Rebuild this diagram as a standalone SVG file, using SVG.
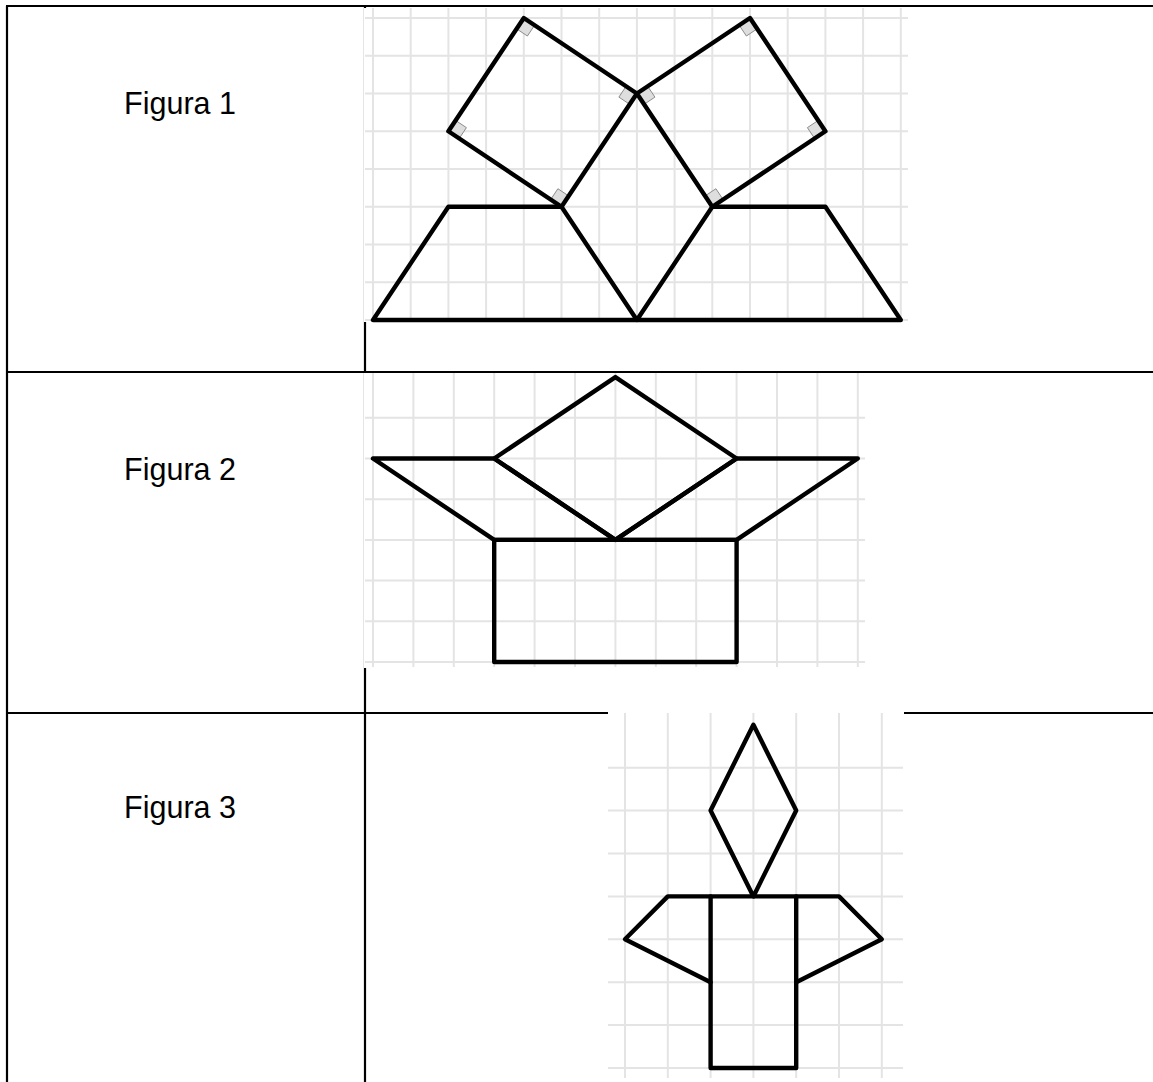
<svg xmlns="http://www.w3.org/2000/svg" width="1153" height="1082" viewBox="0 0 1153 1082">
<style>
.tbl{stroke:#000;stroke-width:2.2;fill:none}
.bg{fill:#fff}
.grid{stroke:#e4e4e4;stroke-width:2;fill:none}
.shape{stroke:#000;stroke-width:4.4;fill:none;stroke-linejoin:round;stroke-linecap:round}
.ra{fill:#dedede;stroke:#8c8c8c;stroke-width:1}
.lbl{font-family:"Liberation Sans",Arial,sans-serif;font-size:30.5px;fill:#000}
</style>
<rect width="1153" height="1082" fill="#fff"/>
<g id="table">
<path class="tbl" d="M6 6H1153 M7 6V1082 M365 6V1082 M7 372H1153 M7 713H1153"/>
</g>
<g id="labels">
<text class="lbl" x="180" y="114" text-anchor="middle">Figura 1</text>
<text class="lbl" x="180" y="480" text-anchor="middle">Figura 2</text>
<text class="lbl" x="180" y="818" text-anchor="middle">Figura 3</text>
</g>
<g id="figura1">
<rect class="bg" x="364" y="8" width="545" height="314"/>
<path class="grid" d="M373 8V322 M410.7 8V322 M448.4 8V322 M486.1 8V322 M523.8 8V322 M561.5 8V322 M599.2 8V322 M636.9 8V322 M674.6 8V322 M712.3 8V322 M750 8V322 M787.7 8V322 M825.4 8V322 M863.1 8V322 M900.8 8V322 M365 18H908 M365 55.75H908 M365 93.5H908 M365 131.25H908 M365 169H908 M365 206.75H908 M365 244.5H908 M365 282.25H908 M365 320H908"/>
<g id="angulos">
<polygon class="ra" points="561.5,206.75 568.7,195.93 557.88,188.73 550.68,199.55"/>
<polygon class="ra" points="636.9,93.5 629.7,104.32 618.88,97.12 626.08,86.3"/>
<polygon class="ra" points="523.8,18 534.62,25.2 527.42,36.02 516.6,28.82"/>
<polygon class="ra" points="448.4,131.25 455.6,120.43 466.42,127.63 459.22,138.45"/>
<polygon class="ra" points="636.9,93.5 647.72,86.3 654.92,97.12 644.1,104.32"/>
<polygon class="ra" points="750,18 739.18,25.2 746.38,36.02 757.2,28.82"/>
<polygon class="ra" points="825.4,131.25 818.2,120.43 807.38,127.63 814.58,138.45"/>
<polygon class="ra" points="712.3,206.75 723.12,199.55 715.92,188.73 705.1,195.93"/>
</g>
<g id="f1-trapecio-izq"><polygon class="shape" points="373,320 636.9,320 561.5,206.75 448.4,206.75"/></g>
<g id="f1-trapecio-der"><polygon class="shape" points="636.9,320 900.8,320 825.4,206.75 712.3,206.75"/></g>
<g id="f1-cuadrado-izq"><polygon class="shape" points="561.5,206.75 636.9,93.5 523.8,18 448.4,131.25"/></g>
<g id="f1-cuadrado-der"><polygon class="shape" points="636.9,93.5 750,18 825.4,131.25 712.3,206.75"/></g>
</g>
<g id="figura2">
<rect class="bg" x="364" y="373" width="502" height="295"/>
<path class="grid" d="M373 373V667 M413.4 373V667 M453.8 373V667 M494.2 373V667 M534.6 373V667 M575 373V667 M615.4 373V667 M655.8 373V667 M696.2 373V667 M736.6 373V667 M777 373V667 M817.4 373V667 M857.8 373V667 M365 417.8H865 M365 458.5H865 M365 499.2H865 M365 539.9H865 M365 580.6H865 M365 621.3H865 M365 662H865"/>
<g id="f2-rombo"><polygon class="shape" points="615.4,377.1 736.6,458.5 615.4,539.9 494.2,458.5"/></g>
<g id="f2-paralelogramo-izq"><polygon class="shape" points="373,458.5 494.2,458.5 615.4,539.9 494.2,539.9"/></g>
<g id="f2-paralelogramo-der"><polygon class="shape" points="736.6,458.5 857.8,458.5 736.6,539.9 615.4,539.9"/></g>
<g id="f2-rectangulo"><polygon class="shape" points="494.2,539.9 736.6,539.9 736.6,662 494.2,662"/></g>
</g>
<g id="figura3">
<rect class="bg" x="608" y="712" width="296" height="370"/>
<path class="grid" d="M625 713V1078 M667.8 713V1078 M710.6 713V1078 M753.4 713V1078 M796.2 713V1078 M839 713V1078 M881.8 713V1078 M608 767.7H903 M608 810.6H903 M608 853.5H903 M608 896.4H903 M608 939.3H903 M608 982.2H903 M608 1025.1H903 M608 1068H903"/>
<g id="f3-rombo"><polygon class="shape" points="753.4,724.8 796.2,810.6 753.4,896.4 710.6,810.6"/></g>
<g id="f3-ala-izq"><polyline class="shape" points="710.6,896.4 667.8,896.4 625,939.3 710.6,982.2"/></g>
<g id="f3-ala-der"><polyline class="shape" points="796.2,896.4 839,896.4 881.8,939.3 796.2,982.2"/></g>
<g id="f3-rectangulo"><polygon class="shape" points="710.6,896.4 796.2,896.4 796.2,1068 710.6,1068"/></g>
</g>
</svg>
